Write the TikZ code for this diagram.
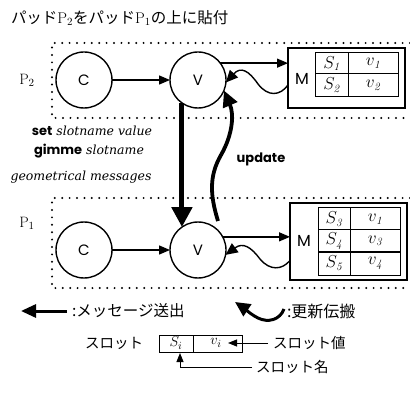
\documentclass[tikz,border=0pt]{standalone}
\usepackage{fontspec}
\newfontfamily\jp{Noto Sans CJK JP}
\newfontfamily\geo{Poppins}
\newfontfamily\itf{DejaVu Serif}
\usetikzlibrary{arrows.meta,calc}

\tikzset{
  every node/.style={inner sep=0pt, outer sep=0pt},
  obj/.style={circle, draw, line width=1.4pt, minimum size=56pt,
    font=\geo\fontsize{15}{15}\selectfont},
  padline/.style={line width=2.2pt, dash pattern=on 0pt off 7.4pt, line cap=round},
  mbox/.style={draw, line width=2.6pt},
  msg/.style={line width=1.4pt, -{Triangle[length=11pt,width=9pt]}},
  thinmsg/.style={line width=1pt, -{Triangle[length=9pt,width=7pt]}},
  bigmsg/.style={line width=5pt, -{Triangle[length=20pt,width=20pt]}},
  legmsg/.style={line width=3pt, -{Triangle[length=15pt,width=13pt]}},
  upd/.style={line width=1.4pt, -{Triangle[length=12pt,width=11pt]}},
  bigupd/.style={line width=3.8pt, -{Triangle[length=16pt,width=15pt]}},
  legupd/.style={line width=3pt, -{Triangle[length=15pt,width=14pt]}},
  cell/.style={font=\fontsize{16}{16}\selectfont},
  padlabel/.style={font=\fontsize{15}{15}\selectfont},
  jptext/.style={font=\jp\fontsize{14.5}{14.5}\selectfont, anchor=west},
  kw/.style={font=\itf\itshape\fontsize{12.5}{14}\selectfont, anchor=center},
  kwbold/.style={font=\geo\bfseries\fontsize{13}{13}\selectfont},
}

\begin{document}
\begin{tikzpicture}[x=1pt,y=-1pt]
\useasboundingbox (0,0) rectangle (410,393);

% title
\node[anchor=west, font=\fontsize{15.5}{15.5}\selectfont] (title) at (11,18)
  {{\jp パッド}P$_2${\jp をパッド}P$_1${\jp の上に貼付}};

% pad outlines (open on the right)
\draw[padline] (410,43) -- (52,43) -- (52,118) -- (410,118);
\draw[padline] (410,198) -- (52,198) -- (52,288) -- (410,288);
\node[padlabel] (p2) at (27,80) {P$_2$};
\node[padlabel] (p1) at (27,223) {P$_1$};

% ---- pad P2 ----
\node[obj] (C2) at (84,80) {C};
\node[obj] (V2) at (198,80) {V};
\node[mbox, minimum width=117pt, minimum height=60pt] (M2) at (346.5,78) {};
\node[font=\geo\fontsize{16}{16}\selectfont] (m2) at (302,79) {M};
\draw[line width=1pt] (315,53) rectangle (398,97);
\draw[line width=1pt] (348,53) -- (348,97) (315,74) -- (398,74);
\node[cell] (s1) at (331.5,63.5) {$S_{\mathit{1}}$};
\node[cell] (w1) at (373,63.5) {$v_{\mathit{1}}$};
\node[cell] (s2) at (331.5,85.5) {$S_{\mathit{2}}$};
\node[cell] (w2) at (373,85.5) {$v_{\mathit{2}}$};

\draw[msg] (C2) -- (V2);
\draw[msg] (V2.37) -- (V2.37 -| M2.west);
\draw[upd] ($(M2.west)+(0,7)$) .. controls (280,96) and (268,97) .. (258,84)
  .. controls (249,71) and (241,66) .. (V2.355);

% ---- pad P1 ----
\node[obj] (C1) at (84,250) {C};
\node[obj] (V1) at (198,250) {V};
\node[mbox, minimum width=117pt, minimum height=77pt] (M1) at (348.5,241.5) {};
\node[font=\geo\fontsize{16}{16}\selectfont] (m1) at (304,241) {M};
\draw[line width=1pt] (318,208) rectangle (400,275);
\draw[line width=1pt] (350,208) -- (350,275) (318,230) -- (400,230);
\draw[line width=2.4pt] (318,252) -- (400,252);
\node[cell] (s3) at (334,219) {$S_{\mathit{3}}$};
\node[cell] (w3) at (375,219) {$v_{\mathit{1}}$};
\node[cell] (s4) at (334,241) {$S_{\mathit{4}}$};
\node[cell] (w4) at (375,241) {$v_{\mathit{3}}$};
\node[cell] (s5) at (334,263.5) {$S_{\mathit{5}}$};
\node[cell] (w5) at (375,263.5) {$v_{\mathit{4}}$};

\draw[msg] (C1) -- (V1);
\draw[msg] (V1.28) -- (V1.28 -| M1.west);
\draw[upd] ($(M1.west)+(0,19)$) .. controls (282,270) and (270,271) .. (260,259)
  .. controls (251,247) and (243,242) .. (V1.350);

% ---- messages between the pads ----
\draw[bigmsg] (V2.235) -- (V1.125);
\coordinate (u0) at (218,221);
\draw[bigupd] (u0) .. controls (210,195) and (209,176) .. (221,155)
  .. controls (233,134) and (234,114) .. (V2.338);

\node[kw] (k1) at (92,131) {{\geo\bfseries\upshape\fontsize{13}{13}\selectfont set} slotname value};
\node[kw] (k2) at (89,151) {{\geo\bfseries\upshape\fontsize{13}{13}\selectfont gimme} slotname};
\node[kw] (k3) at (81,177) {geometrical messages};
\node[kwbold] (k4) at (261,159) {update};

% ---- legend ----
\coordinate (la1) at (67,311);
\coordinate (la0) at (21,311);
\draw[legmsg] (la1) -- (la0);
\node[jptext, font=\jp\fontsize{15.5}{15.5}\selectfont] (lt1) at (72,311) {:メッセージ送出};
\coordinate (lw0) at (284,309);
\coordinate (lw1) at (235,302);
\draw[legupd] (lw0) .. controls (280,320) and (268,323) .. (258,318)
  .. controls (250,314) and (244,308) .. (lw1);
\node[jptext, font=\jp\fontsize{16}{16}\selectfont] (lt2) at (287,311) {:更新伝搬};

% slot legend
\node[jptext, anchor=east] (sl) at (143,343) {スロット};
\draw[line width=1pt] (159,335) rectangle (242,352);
\draw[line width=1pt] (193,335) -- (193,352);
\node[cell, font=\fontsize{15}{15}\selectfont] (si) at (176,343) {$S_i$};
\node[cell, font=\fontsize{15}{15}\selectfont] (vi) at (216,343) {$v_i$};
\node[jptext] (sv) at (273,343) {スロット値};
\coordinate (vtip) at (228,343);
\draw[thinmsg] ($(sv.west)+(-5,0)$) -- (vtip);
\node[jptext] (sn) at (256,367) {スロット名};
\coordinate (stip) at (180,353);
\draw[thinmsg] ($(sn.west)+(-4,0)$) -| (stip);
\end{tikzpicture}
\end{document}
